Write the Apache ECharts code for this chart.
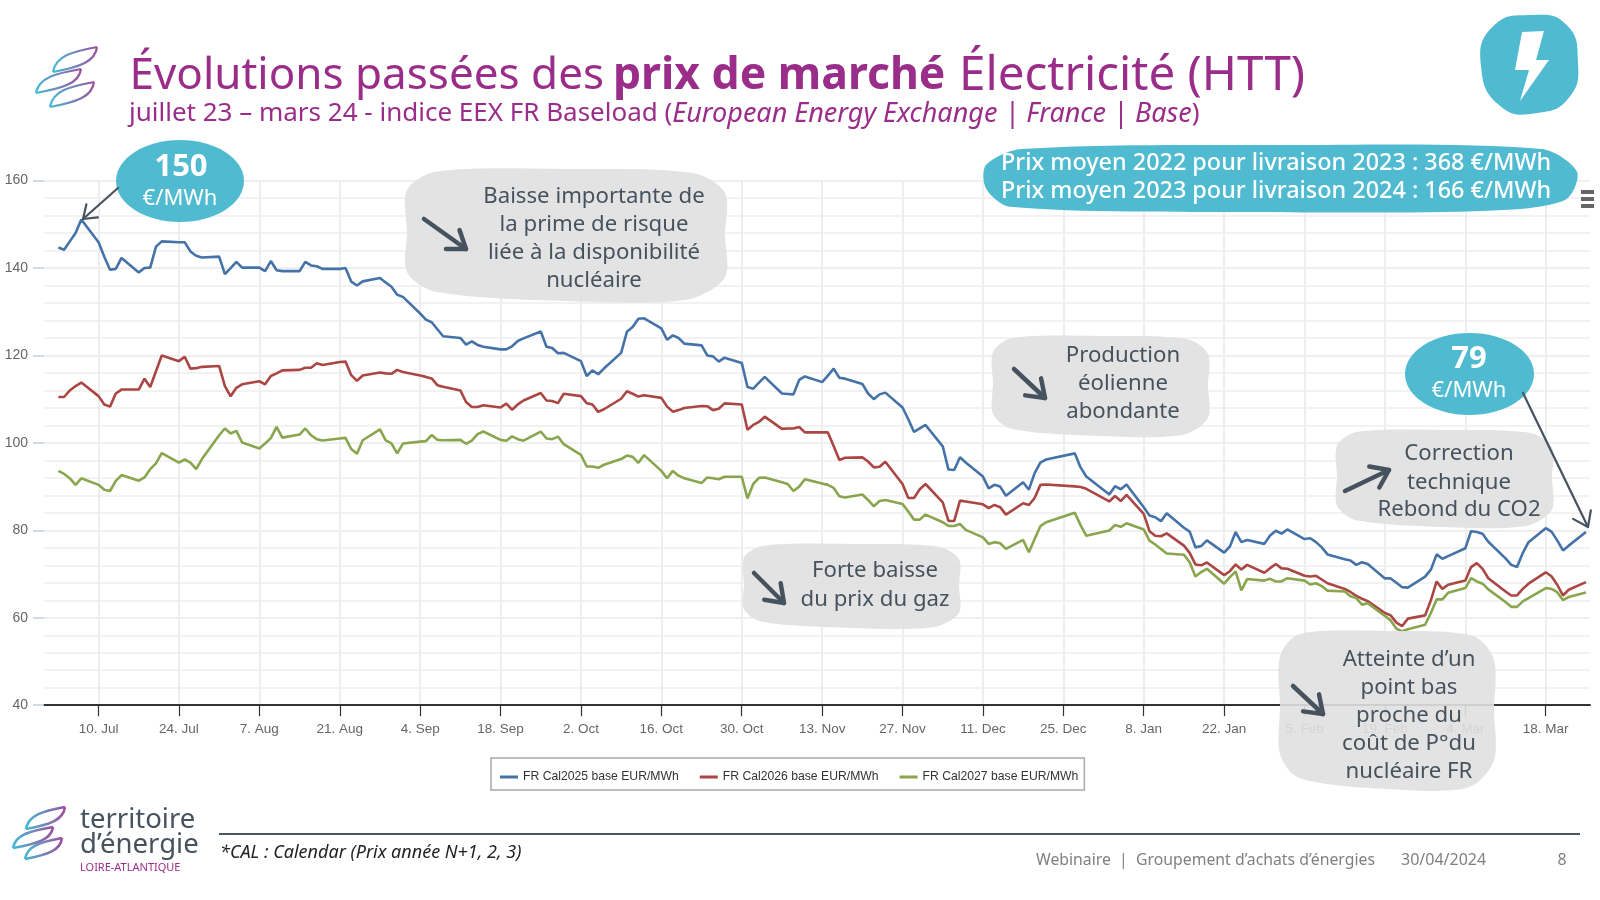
<!DOCTYPE html>
<html><head><meta charset="utf-8">
<style>html,body{margin:0;padding:0;background:#fff}#c{width:1600px;height:900px}</style>
<script src="https://cdn.jsdelivr.net/npm/echarts@6/dist/echarts.min.js"></script>
</head><body><div id="c"></div>
<script>
const dates = [
 '2023-07-03','2023-07-04','2023-07-05','2023-07-06','2023-07-07','2023-07-10','2023-07-11','2023-07-12','2023-07-13','2023-07-14','2023-07-17','2023-07-18','2023-07-19','2023-07-20','2023-07-21','2023-07-24','2023-07-25','2023-07-26','2023-07-27','2023-07-28','2023-07-31',
 '2023-08-01','2023-08-02','2023-08-03','2023-08-04','2023-08-07','2023-08-08','2023-08-09','2023-08-10','2023-08-11','2023-08-14','2023-08-15','2023-08-16','2023-08-17','2023-08-18','2023-08-21','2023-08-22','2023-08-23','2023-08-24','2023-08-25','2023-08-28','2023-08-29','2023-08-30','2023-08-31',
 '2023-09-01','2023-09-04','2023-09-05','2023-09-06','2023-09-07','2023-09-08','2023-09-11','2023-09-12','2023-09-13','2023-09-14','2023-09-15','2023-09-18','2023-09-19','2023-09-20','2023-09-21','2023-09-22','2023-09-25','2023-09-26','2023-09-27','2023-09-28','2023-09-29',
 '2023-10-02','2023-10-03','2023-10-04','2023-10-05','2023-10-06','2023-10-09','2023-10-10','2023-10-11','2023-10-12','2023-10-13','2023-10-16','2023-10-17','2023-10-18','2023-10-19','2023-10-20','2023-10-23','2023-10-24','2023-10-25','2023-10-26','2023-10-27','2023-10-30','2023-10-31',
 '2023-11-01','2023-11-02','2023-11-03','2023-11-06','2023-11-07','2023-11-08','2023-11-09','2023-11-10','2023-11-13','2023-11-14','2023-11-15','2023-11-16','2023-11-17','2023-11-20','2023-11-21','2023-11-22','2023-11-23','2023-11-24','2023-11-27','2023-11-28','2023-11-29','2023-11-30',
 '2023-12-01','2023-12-04','2023-12-05','2023-12-06','2023-12-07','2023-12-08','2023-12-11','2023-12-12','2023-12-13','2023-12-14','2023-12-15','2023-12-18','2023-12-19','2023-12-20','2023-12-21','2023-12-22','2023-12-27','2023-12-28','2023-12-29',
 '2024-01-02','2024-01-03','2024-01-04','2024-01-05','2024-01-08','2024-01-09','2024-01-10','2024-01-11','2024-01-12','2024-01-15','2024-01-16','2024-01-17','2024-01-18','2024-01-19','2024-01-22','2024-01-23','2024-01-24','2024-01-25','2024-01-26','2024-01-29','2024-01-30','2024-01-31',
 '2024-02-01','2024-02-02','2024-02-05','2024-02-06','2024-02-07','2024-02-08','2024-02-09','2024-02-12','2024-02-13','2024-02-14','2024-02-15','2024-02-16','2024-02-19','2024-02-20','2024-02-21','2024-02-22','2024-02-23','2024-02-26','2024-02-27','2024-02-28','2024-02-29',
 '2024-03-01','2024-03-04','2024-03-05','2024-03-06','2024-03-07','2024-03-08','2024-03-11','2024-03-12','2024-03-13','2024-03-14','2024-03-15','2024-03-18','2024-03-19','2024-03-20','2024-03-21','2024-03-22','2024-03-25'
];
const cal2025 = [
 144.7,144.2,146.1,148,151.1,145.9,142.6,139.6,139.8,142.3,139,140,140.1,144.9,146.1,145.9,145.9,143.8,142.8,142.4,142.6,
 138.6,140,141.4,140.1,140.1,139.3,141.6,139.5,139.3,139.3,141.4,140.6,140.4,139.8,139.8,140,136.9,136,136.95,137.7,136.7,135.7,133.9,
 133.4,129.6,128.2,127.6,126,124.4,124,122.5,123.2,122.4,122,121.4,121.4,122.1,123.3,123.9,125.5,122,121.7,120.5,120.6,
 118.7,115.3,116.6,115.7,117,120.6,125.4,126.5,128.4,128.5,126.2,123.6,124.6,124,122.7,122.3,120,119.8,118.6,119.5,118.3,112.8,
 112.4,113.8,115.1,111.3,111.2,111.1,114.4,115.2,113.9,115.4,117,114.9,114.7,113.5,111.3,110,111.1,111.5,108.1,105.4,102.5,103.3,
 104.1,99.2,93.9,93.8,96.7,95.5,92.3,89.6,90.4,90,87.9,91,89.3,93.1,95.5,96.2,97.6,94.4,92.3,
 88.2,90.1,89.4,90.5,85.3,83.4,83,82.1,83.9,80.6,79.7,76.1,76.4,77.7,74.9,76.3,79.6,77.3,77.8,76.9,78.8,79.9,
 79.25,80.2,78,78.2,77.3,76.1,74.5,73.4,73.1,72.1,72.7,72.3,69,69,68,67,66.9,69.4,71,74.5,73.5,
 74.1,75.9,79.8,79.6,79.2,77.4,73.6,72.1,71.6,74.8,77.3,80.5,79.7,77.7,75.4,76.5,79.6
];
const cal2026 = [
 110.5,110.5,112,113,113.8,110.7,108.8,108.3,111.3,112.2,112.2,114.7,112.8,116.4,120,118.7,119.7,117,117.1,117.4,117.6,
 113,110.65,112.6,113.4,114.1,113.4,115.3,115.9,116.6,116.7,117.2,117.2,118.2,117.8,118.5,118.6,115.5,114.2,115.4,116.1,115.9,115.8,116.7,
 116.2,115.4,115.1,114.75,113.2,112.85,112,109.35,108.2,108.2,108.6,108.1,109,107.6,108.8,109.7,111.4,109.7,109.6,109.1,111.25,
 110.7,109.1,108.8,107.1,107.7,110.1,111.8,111.25,110.6,110.9,110.3,108.3,107.15,107.5,108,108.45,108.4,107.5,107.8,109.05,108.8,103,
 104.1,104.8,106,103.2,103.3,103.3,103.65,102.4,102.4,102.4,99.3,96.1,96.6,96.7,95.75,94.4,94.55,95.7,90.6,87.4,87.4,89.4,
 90.6,86.4,82.15,82.15,86.8,86.6,85.95,85.1,85.8,85.3,83.6,86.2,85.8,87.4,90.4,90.5,90.05,89.9,89.5,
 86.6,87.85,86.7,88.1,83.75,79.8,78.75,78.65,79.3,76.5,74.85,72.2,72,72.65,69.75,70.65,72.2,71.05,72.1,70.3,71.35,72.3,
 71.3,71.2,69.6,69.45,69.6,68.75,67.9,66.6,65.9,65,64.35,63.8,61.1,60.55,58.9,58.1,59.8,60.55,64,68.3,66.6,
 67.55,68.5,71.6,72.5,71.2,69.05,66,65.1,65.1,66.6,67.8,70.4,69.5,67.55,65.1,66.4,68.15
];
const cal2027 = [
 93.6,92.9,91.9,90.4,91.9,90.4,89.3,89,91.3,92.65,91.35,92.1,94,95.3,97.65,95.5,96.2,95.5,94,96.3,101.75,
 103.3,102.15,102.75,100.1,98.7,99.85,101.1,103.65,101.2,101.9,103.3,101.75,100.85,100.55,101,101.15,98.6,97.5,100.6,103.1,100.6,99.9,97.6,
 99.85,100.3,100.4,101.8,100.7,100.6,100.7,99.8,100.5,102,102.6,100.7,100.5,101.5,100.85,100.5,102.6,101,100.85,101.45,99.7,
 97.25,94.6,94.6,94.3,95,96.3,97.1,96.8,95.45,97.2,93.6,91.9,93.6,92.5,91.9,90.8,92.1,91.9,91.7,92.25,92.25,87.3,
 90.6,92,92.1,91,90.6,89,90,91.7,90.7,90.4,89.7,87.8,87.5,88.2,86.95,85.5,86.7,86.95,86,84.3,82.45,82.45,
 83.6,81.85,81,81,81.45,80.1,78.4,76.9,77.3,77.05,75.75,77.8,75,78,80.95,81.85,84,81.2,78.75,
 79.95,81.2,80.8,81.6,80.2,77.65,76.75,75.75,74.7,74.4,72.7,69.45,70.45,71.2,67.8,69.3,70.6,66.25,68.85,68.5,68.9,68.3,
 68.3,69.05,68.5,67.6,67.9,67.25,66.2,66,64.9,64.5,63,63.35,60.4,59.4,57.5,56.9,57.35,58.4,61.1,64.2,64.2,
 65.7,66.8,69.05,68.3,67.8,66.5,63.6,62.5,62.5,63.75,64.5,66.8,66.6,65.85,64.05,64.75,65.8
];
const tickDates = ['2023-07-10','2023-07-24','2023-08-07','2023-08-21','2023-09-04','2023-09-18','2023-10-02','2023-10-16','2023-10-30','2023-11-13','2023-11-27','2023-12-11','2023-12-25','2024-01-08','2024-01-22','2024-02-05','2024-02-19','2024-03-04','2024-03-18'];
const tickLabels = ['10. Jul','24. Jul','7. Aug','21. Aug','4. Sep','18. Sep','2. Oct','16. Oct','30. Oct','13. Nov','27. Nov','11. Dec','25. Dec','8. Jan','22. Jan','5. Feb','19. Feb','4. Mar','18. Mar'];
const seriesNames = ['FR Cal2025 base EUR/MWh','FR Cal2026 base EUR/MWh','FR Cal2027 base EUR/MWh'];

const ts = d => new Date(d + 'T00:00:00').getTime();
const tickTs = tickDates.map(ts);
const FONT = '"Noto Sans", sans-serif';
const AXISFONT = '"Liberation Sans", sans-serif';
const TEAL = '#50BBD0', INK = '#46525E', PURPLE = '#9B2D8A', BUBBLE = 'rgba(224,224,224,0.9)';

const pair = vals => vals.map((v, i) => [ts(dates[i]), v]);
const g = [];
const text = (t, x, y, size, fill, extra) => g.push({type:'text', z:60, style:Object.assign({
  text:t, x, y, fontSize:size, fontFamily:FONT, fill, textAlign:'center', textVerticalAlign:'middle'}, extra||{})});
const blobPts = [[0,16],[9,2],[50,0],[90,3],[100,18],[100,50],[100,82],[88,99],[50,100],[9,93],[0,78],[0,48]];
const bannerPts = [[0,30],[6,6],[50,0],[94,6],[100,40],[98,82],[85,98],[45,100],[4,92],[0,65]];
const badgePts = [[52,0],[88,10],[100,48],[91,84],[58,100],[20,93],[0,52],[12,12]];
const blobShape = (pts, x0, y0, x1, y1, fill, sm) => g.push({type:'polygon', z:50,
  shape:{points:pts.map(p => [x0+(x1-x0)*p[0]/100, y0+(y1-y0)*p[1]/100]), smooth:sm||0.3}, style:{fill}});
const blob = (x0, y0, x1, y1, fill) => blobShape(blobPts, x0, y0, x1, y1, fill||BUBBLE);
const arrow = (x1, y1, x2, y2, w, head) => {
  const st = {stroke:INK, lineWidth:w, lineCap:'round', lineJoin:'round', fill:null};
  g.push({type:'line', z:55, shape:{x1,y1,x2,y2}, style:st});
  const a = Math.atan2(y2-y1, x2-x1), s = 0.62;
  g.push({type:'polyline', z:55, shape:{points:[
    [x2-head*Math.cos(a-s), y2-head*Math.sin(a-s)], [x2,y2], [x2-head*Math.cos(a+s), y2-head*Math.sin(a+s)]]}, style:st});
};
const grad = {type:'linear', x:0, y:0, x2:1, y2:0, colorStops:[{offset:0, color:'#3fc1d6'},{offset:1, color:'#a24a9c'}]};
const leaf = (x, y, w, h, lw) => {
  const st = {fill:null, stroke:grad, lineWidth:lw};
  g.push({type:'bezierCurve', z:20, shape:{x1:x, y1:y+h, cpx1:x+.06*w, cpy1:y+.35*h, cpx2:x+.45*w, cpy2:y+.18*h, x2:x+w, y2:y}, style:st});
  g.push({type:'bezierCurve', z:20, shape:{x1:x+w, y1:y, cpx1:x+.96*w, cpy1:y+.6*h, cpx2:x+.6*w, cpy2:y+.8*h, x2:x, y2:y+h}, style:st});
};

// Header
const titleParts = [['Évolutions passées des',129.5,44,'normal'],['prix de marché',613,44.5,'bold'],['Électricité (HTT)',959,47.5,'normal']];
titleParts.forEach(p => text(p[0], p[1], 76, p[2], PURPLE, {textAlign:'left', fontWeight:p[3]}));
g.push({type:'text', z:60, style:{x:129, y:114, textVerticalAlign:'middle', fontFamily:FONT, fontSize:26, fill:PURPLE,
  text:'{n|juillet 23 – mars 24 - indice EEX FR Baseload (}{i|European Energy Exchange | France | Base}{n|)}',
  rich:{n:{fontSize:26, fontFamily:FONT, fill:PURPLE}, i:{fontSize:27, fontFamily:FONT, fill:PURPLE, fontStyle:'italic'}}}});
leaf(53,47,44,25,2.2); leaf(36,69,45,24,2.2); leaf(50,82,44,25,2.2);

// Lightning badge
blobShape(badgePts, 1481, 15, 1578, 113, TEAL, 0.5);
g.push({type:'polygon', z:55, shape:{points:[[1522,32],[1544,31],[1536,60],[1549,60],[1520,101],[1529,70],[1515,70]]}, style:{fill:'#fff'}});

// Average-price banner
blobShape(bannerPts, 986, 145, 1577, 212, TEAL, 0.3);
text('Prix moyen 2022 pour livraison 2023 : 368 €/MWh', 1001, 163, 23.4, '#fff', {textAlign:'left', fontWeight:500});
text('Prix moyen 2023 pour livraison 2024 : 166 €/MWh', 1001, 191, 23.4, '#fff', {textAlign:'left', fontWeight:500});

// Export menu icon
[190,197,204].forEach(y => g.push({type:'rect', z:40, shape:{x:1581,y,width:13,height:4}, style:{fill:'#666'}}));

// Price ellipses
g.push({type:'ellipse', z:50, shape:{cx:180,cy:181,rx:64,ry:41}, style:{fill:TEAL}});
text('150', 181, 167, 31, '#fff', {fontWeight:'bold'});
text('€/MWh', 180, 199, 22, '#fff');
arrow(118,188,83,219,2.2,15);
g.push({type:'ellipse', z:50, shape:{cx:1469.5,cy:374,rx:64.5,ry:41}, style:{fill:TEAL}});
text('79', 1469, 359, 31, '#fff', {fontWeight:'bold'});
text('€/MWh', 1469, 391, 22, '#fff');
arrow(1523,393,1588,527,2.2,17);

// Comment bubbles
const comment = (box, cx, lines, ys, a) => {
  blob(box[0],box[1],box[2],box[3]);
  lines.forEach((l,i) => text(l, cx, ys[i]+1.5, 22.2, INK));
  arrow(a[0],a[1],a[2],a[3],4.5,20);
};
comment([407,169,725,301], 594, ['Baisse importante de','la prime de risque','liée à la disponibilité','nucléaire'], [195,223,251,279], [424,219,466,249]);
comment([993,336,1208,436], 1123, ['Production','éolienne','abondante'], [354,382,410], [1014,369,1045,398]);
comment([744,544,959,628], 875, ['Forte baisse','du prix du gaz'], [569,598], [754,573,784,603]);
comment([1337,430,1552,527], 1459, ['Correction','technique','Rebond du CO2'], [452,481,508], [1345,491,1389,470]);
comment([1280,631,1494,789], 1409, ['Atteinte d’un','point bas','proche du','coût de P°du','nucléaire FR'], [658,686,714,742,770], [1293,686,1323,714]);

// Footer
leaf(26,807,39,22,2.6); leaf(13,827,40,21,2.6); leaf(25,838,37,21,2.6);
text('territoire', 80, 820, 27.5, INK, {textAlign:'left'});
text('d’énergie', 80, 845, 27.5, INK, {textAlign:'left'});
text('LOIRE-ATLANTIQUE', 80, 868, 11, PURPLE, {textAlign:'left'});
g.push({type:'rect', z:20, shape:{x:219,y:833,width:1361,height:2}, style:{fill:'#4a5560'}});
text('*CAL : Calendar (Prix année N+1, 2, 3)', 220, 853, 18, '#222', {textAlign:'left', fontStyle:'italic'});
text('Webinaire  |  Groupement d’achats d’énergies', 1036, 860, 15.8, '#808080', {textAlign:'left'});
text('30/04/2024', 1401, 860, 16, '#808080', {textAlign:'left'});
text('8', 1562, 860, 16, '#808080');

const palette = ['#4572A7','#AA4643','#89A54E'];
const chart = echarts.init(document.getElementById('c'));
chart.setOption({
  animation:false,
  backgroundColor:'#fff',
  grid:{left:44, right:10, top:180.6, height:524.6, containLabel:false},
  legend:{left:491, top:758, padding:[13,6,7,9], itemWidth:18, itemHeight:3, itemGap:21, icon:'rect',
    borderColor:'#a8a8a8', borderWidth:1.5, backgroundColor:'#fff', width:640,
    textStyle:{fontFamily:AXISFONT, fontSize:12.2, color:'#333'},
    data:seriesNames},
  xAxis:{type:'value', scale:true, min:ts('2023-06-30')+12*3600e3, max:ts('2024-03-25')+17*3600e3,
    axisLine:{show:true, onZero:false, lineStyle:{color:'#333', width:2}},
    axisTick:{show:true, length:11, customValues:tickTs, lineStyle:{color:'#333', width:1.2}},
    axisLabel:{customValues:tickTs, margin:17, color:'#666', fontSize:13.5, fontFamily:AXISFONT, hideOverlap:false,
      formatter:v => tickLabels[tickTs.indexOf(+v)] || ''},
    splitLine:{show:true, lineStyle:{color:'#eeeeee', width:2}},
    minorSplitLine:{show:false}},
  yAxis:{type:'value', min:40, max:160, interval:20,
    axisLine:{show:false},
    axisTick:{show:true, length:11, lineStyle:{color:'#C0D0E0', width:1.5}},
    axisLabel:{margin:16, color:'#666', fontSize:14, fontFamily:AXISFONT},
    splitLine:{show:true, lineStyle:{color:'#efefef', width:2}},
    minorTick:{show:false, splitNumber:5},
    minorSplitLine:{show:true, lineStyle:{color:'#f2f2f2', width:2}}},
  series:[cal2025, cal2026, cal2027].map((vals,i) => ({
    name:seriesNames[i], type:'line', data:pair(vals), showSymbol:false, symbol:'none', smooth:false,
    lineStyle:{color:palette[i], width:2.6}, itemStyle:{color:palette[i]}, emphasis:{disabled:true}, z:5+i
  })),
  graphic:{elements:g}
});
</script></body></html>
